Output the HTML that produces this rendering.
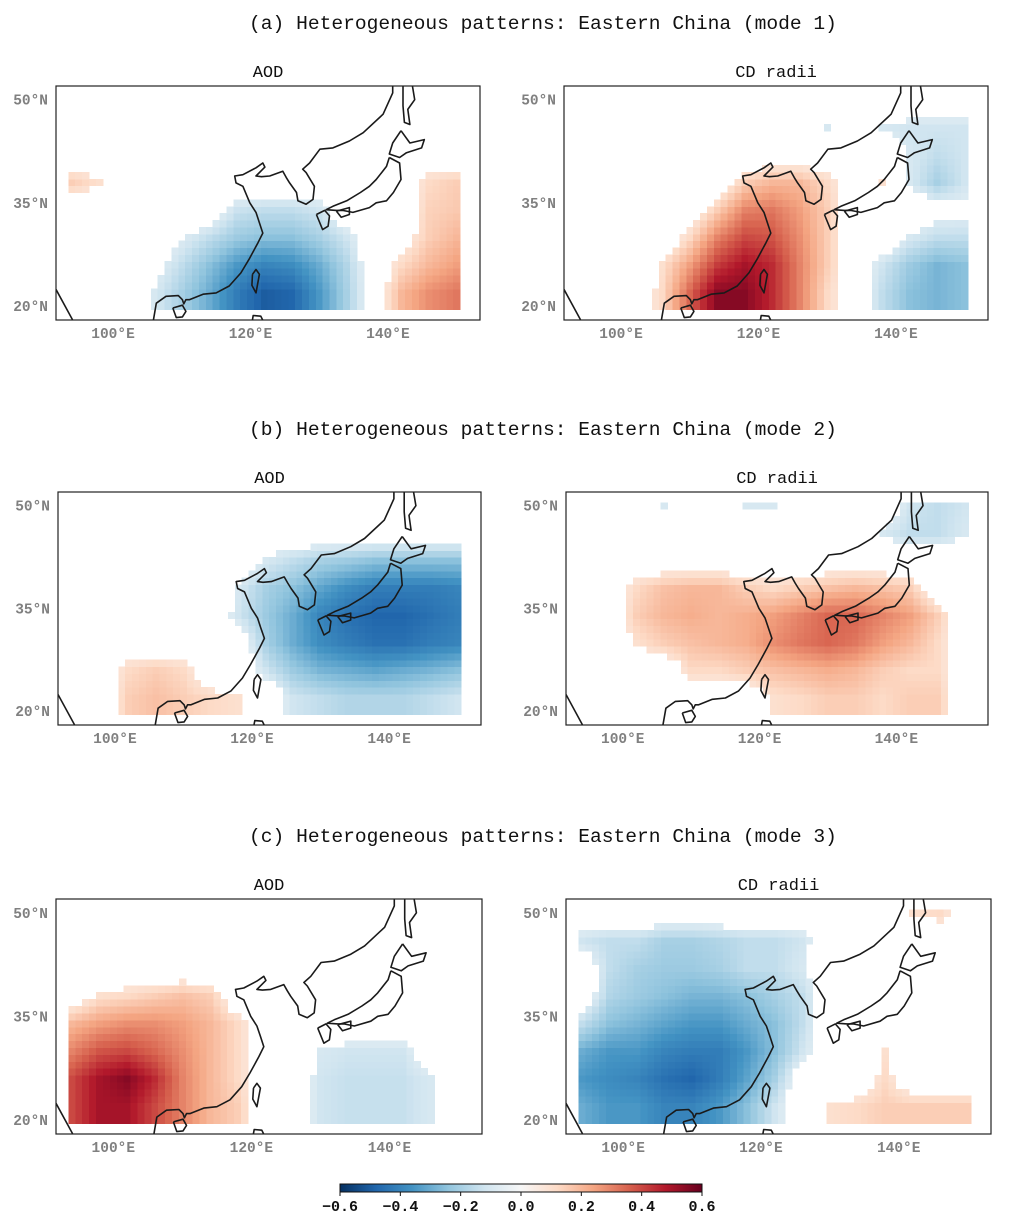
<!DOCTYPE html>
<html><head><meta charset="utf-8"><style>
body{margin:0;background:#fff;}
svg text{font-family:"Liberation Mono","DejaVu Sans Mono",monospace;}
</style></head><body>
<svg id="fig" width="1009" height="1225" viewBox="0 0 1009 1225" xmlns="http://www.w3.org/2000/svg"></svg>
<script>
const lons=[94,98,102,106,110,114,118,122,126,130,134,138,142,146,150];
const lats=[50,46,42,38,34,30,26,22];
const aAOD=[
[0,0,0,0,0,0,0,0,0,0,0,0,0,0,0],
[0,0,0,0,0,0,0,0,0,0,0,0,0,0,0],
[0,0,0,0,0,0,0,0,0,0,0,0,0,0,0],
[.15,.1,0,0,0,0,0,0,0,0,0,0,0,.12,.15],
[0,0,0,0,0,0,-.13,-.15,-.15,-.12,0,0,0,.14,.16],
[0,0,0,0,-.08,-.15,-.22,-.25,-.25,-.2,-.12,0,.04,.15,.2],
[0,0,0,-.05,-.15,-.25,-.35,-.4,-.38,-.3,-.18,0,.12,.2,.25],
[0,0,0,-.1,-.2,-.3,-.42,-.5,-.48,-.35,-.2,0,.2,.28,.32]];
const aCD=[
[0,0,0,0,0,0,0,0,0,0,0,0,0,0,0],
[0,0,0,0,0,0,0,0,0,-.1,0,-.1,-.12,-.12,-.12],
[0,0,0,0,0,0,0,0,0,0,0,0,-.1,-.15,-.12],
[0,0,0,0,0,0,.15,.2,.2,.12,0,.1,-.1,-.2,-.12],
[0,0,0,0,0,.15,.3,.32,.25,.15,0,0,0,-.05,-.06],
[0,0,0,0,.12,.3,.4,.38,.28,.15,0,0,-.1,-.15,-.15],
[0,0,0,.1,.25,.42,.5,.45,.3,.15,0,-.12,-.22,-.28,-.25],
[0,0,0,.12,.35,.55,.55,.45,.3,.12,0,-.15,-.25,-.28,-.25]];
const bAOD=[
[0,0,0,0,0,0,0,0,0,0,0,0,0,0,0],
[0,0,0,0,0,0,0,0,0,0,0,0,0,0,0],
[0,0,0,0,0,0,0,-.1,-.15,-.2,-.22,-.25,-.25,-.25,-.25],
[0,0,0,0,0,0,-.1,-.2,-.25,-.32,-.38,-.42,-.42,-.42,-.4],
[0,0,0,0,0,0,-.12,-.22,-.3,-.4,-.45,-.48,-.48,-.45,-.42],
[0,0,0,0,0,0,0,-.2,-.3,-.38,-.42,-.45,-.45,-.42,-.4],
[0,0,.12,.15,.12,0,0,-.12,-.22,-.28,-.3,-.32,-.3,-.28,-.25],
[0,0,.15,.18,.15,.12,.1,0,-.12,-.15,-.18,-.18,-.18,-.15,-.12]];
const bCD=[
[0,0,0,-.1,0,0,-.1,-.1,0,0,0,0,-.12,-.15,-.12],
[0,0,0,0,0,0,0,0,0,0,0,-.1,-.15,-.15,-.1],
[0,0,0,0,0,0,0,0,0,0,0,0,0,0,0],
[0,0,.12,.18,.2,.2,.15,.12,.15,.18,.2,.18,.15,0,0],
[0,0,.15,.2,.22,.2,.22,.25,.3,.35,.35,.3,.25,.15,0],
[0,0,.1,.15,.18,.2,.22,.28,.32,.35,.32,.25,.2,.12,0],
[0,0,0,0,.12,.12,.15,.18,.2,.22,.2,.15,.12,.12,0],
[0,0,0,0,0,0,0,.1,.12,.15,.15,.12,.15,.15,0]];
const cAOD=[
[0,0,0,0,0,0,0,0,0,0,0,0,0,0,0],
[0,0,0,0,0,0,0,0,0,0,0,0,0,0,0],
[0,0,0,0,0,0,0,0,0,0,0,0,0,0,0],
[0,.1,.12,.15,.18,.15,0,0,0,0,0,0,0,0,0],
[.2,.25,.28,.28,.25,.2,.12,0,0,0,0,0,0,0,0],
[.3,.38,.4,.35,.28,.2,.12,0,0,-.1,-.12,-.12,-.12,0,0],
[.4,.5,.55,.45,.3,.2,.12,0,0,-.12,-.14,-.14,-.14,-.1,0],
[.4,.5,.5,.4,.3,.2,.15,0,0,-.12,-.14,-.14,-.14,-.1,0]];
const cCD=[
[0,0,0,0,0,0,0,0,0,0,0,0,.1,.12,0],
[-.12,-.15,-.15,-.2,-.2,-.18,-.15,-.15,-.12,0,0,0,0,0,0],
[0,-.15,-.2,-.22,-.22,-.2,-.15,-.15,-.1,0,0,0,0,0,0],
[0,-.18,-.22,-.25,-.28,-.28,-.25,-.2,-.15,0,0,0,0,0,0],
[-.15,-.25,-.28,-.32,-.35,-.35,-.3,-.25,-.15,0,0,0,0,0,0],
[-.3,-.35,-.35,-.4,-.42,-.42,-.35,-.25,-.12,0,0,.1,0,0,0],
[-.35,-.38,-.4,-.45,-.48,-.42,-.32,-.2,0,0,0,.12,0,0,0],
[-.3,-.35,-.35,-.4,-.4,-.35,-.25,-.12,0,.1,.12,.15,.15,.15,.15]];
const latTicks=[50,35,20];
const lonTicks=[100,120,140];
const cbTicks=[-0.6,-0.4,-0.2,0.0,0.2,0.4,0.6];

const cmapStops=["#053061","#2166ac","#4393c3","#92c5de","#d1e5f0","#f7f7f7","#fddbc7","#f4a582","#d6604d","#b2182b","#67001f"];
function hex(h){return [1,3,5].map(i=>parseInt(h.substr(i,2),16));}
function cmap(v){let t=(v+0.6)/1.2;t=Math.max(0,Math.min(1,t))*10;const i=Math.min(9,Math.floor(t)),f=t-i;const a=hex(cmapStops[i]),b=hex(cmapStops[i+1]);return `rgb(${a.map((x,k)=>Math.round(x+(b[k]-x)*f)).join(',')})`;}

const coasts=[
[[91.7,22.4],[94.1,18]],
[[105.8,17.5],[106.3,20.4],[107.7,21.4],[109.5,21.5],[110.1,20.9],[110.3,20.3],[110.6,20.9],[111.1,20.9],[113.1,21.7],[115,21.9],[116.9,22.9],[118.6,24.8],[119.8,26.8],[121.1,29.2],[121.8,30.6],[121.3,32.1],[120.8,33.6],[119.9,35],[118.9,37.4],[117.9,37.9],[117.7,38.9],[118.9,39.1],[120.8,40.1],[121.8,40.8],[122.1,40.2],[120.8,38.9],[121.6,38.8],[122.8,38.9],[124.7,39.6],[125.2,38.7],[125.7,37.9],[126.7,36.5],[126.9,35.3],[128.1,34.8],[129.1,35.5],[129.3,37.4],[128.1,39.4],[127.6,39.9],[128.6,40.8],[130.1,42.8],[132,43],[134.4,44],[136.4,45.2],[139.3,47.9],[140.7,51],[140.7,53]],
[[142.2,53],[142.2,49.1],[142.4,46.7],[143.2,46.4],[142.9,48.6],[143.9,50],[143.4,53]],
[[141.9,45.5],[143.2,43.7],[145.3,44.2],[144.9,43],[142.7,42.3],[141.7,41.6],[140.2,42.1],[140.7,43.7],[141.9,45.5]],
[[140.2,41.6],[141.7,40.8],[141.9,38.4],[140.8,36.5],[139.8,35.3],[138.3,35],[137.3,34.3],[134.9,33.6],[133.4,33.9],[132.5,33.9],[131,34],[132,34.5],[134,35.3],[136,36.5],[137.3,37.4],[138.3,38.4],[139.8,40.3],[140.2,41.6]],
[[129.6,33.3],[130.5,31.1],[131.3,31.6],[131.5,33.1],[130.8,33.9],[129.6,33.3]],
[[132.5,33.8],[134.4,34.3],[134.4,33.3],[133.2,32.9],[132.5,33.8]],
[[120.3,24.6],[120.8,25.3],[121.3,24.6],[120.8,21.9],[120.2,23],[120.3,24.6]],
[[108.7,19.7],[110.1,20.1],[110.6,19.2],[110.1,18.4],[109.2,18.3],[108.7,19.7]],
[[120.2,17.5],[120.4,18.6],[121.5,18.5],[122,17.5]]
];

const panels=[
{id:"a-aod",x:56,y:86,w:424,h:234,title:"AOD",data:aAOD},
{id:"a-cd",x:564,y:86,w:424,h:234,title:"CD radii",data:aCD},
{id:"b-aod",x:58,y:492,w:423,h:233,title:"AOD",data:bAOD},
{id:"b-cd",x:566,y:492,w:422,h:233,title:"CD radii",data:bCD},
{id:"c-aod",x:56,y:899,w:426,h:235,title:"AOD",data:cAOD},
{id:"c-cd",x:566,y:899,w:425,h:235,title:"CD radii",data:cCD}];
const rowTitles=[["(a) Heterogeneous patterns: Eastern China (mode 1)",23],["(b) Heterogeneous patterns: Eastern China (mode 2)",429],["(c) Heterogeneous patterns: Eastern China (mode 3)",836]];

const NS="http://www.w3.org/2000/svg";
const svg=document.getElementById('fig');
function mk(tag,attrs,parent){const e=document.createElementNS(NS,tag);for(const k in attrs)e.setAttribute(k,attrs[k]);(parent||svg).appendChild(e);return e;}

function sample(d,lon,lat){
  let fx=(lon-lons[0])/4, fy=(lats[0]-lat)/4;
  fx=Math.max(0,Math.min(lons.length-1,fx)); fy=Math.max(0,Math.min(lats.length-1,fy));
  const i=Math.min(lons.length-2,Math.floor(fx)), j=Math.min(lats.length-2,Math.floor(fy));
  const u=fx-i,v=fy-j;
  return d[j][i]*(1-u)*(1-v)+d[j][i+1]*u*(1-v)+d[j+1][i]*(1-u)*v+d[j+1][i+1]*u*v;
}

rowTitles.forEach((r,k)=>{
  const t=mk('text',{x:543,y:r[1]+6,'text-anchor':'middle','font-size':19.6,fill:'#111'});
  t.textContent=r[0];
  
  
});

panels.forEach(p=>{
  const sx=lon=>p.x+(lon-91.7)*p.w/61.7;
  const sy=lat=>p.y+(52-lat)*p.h/34.05;
  const g=mk('g',{});
  
  
  const cid='clip-'+p.id;
  const cp=mk('clipPath',{id:cid},g);mk('rect',{x:p.x,y:p.y,width:p.w,height:p.h},cp);
  const cells=mk('g',{'clip-path':`url(#${cid})`,'shape-rendering':'crispEdges'},g);
  
  
  for(let lon=94;lon<=150;lon++)for(let lat=20;lat<=50;lat++){
    const v=sample(p.data,lon,lat);
    if(Math.abs(v)<0.09)continue;
    const c=mk('rect',{x:sx(lon-0.5),y:sy(lat+0.5),width:p.w/61.7+0.6,height:p.h/34.05+0.6,fill:cmap(v)},cells);
    
    
  }
  const cg=mk('g',{'clip-path':`url(#${cid})`,fill:'none',stroke:'#1a1a1a','stroke-width':1.6,'stroke-linejoin':'round'},g);
  
  
  coasts.forEach(c=>{mk('path',{d:c.map((q,i)=>(i?'L':'M')+sx(q[0]).toFixed(1)+','+sy(q[1]).toFixed(1)).join('')},cg);});
  const fr=mk('rect',{x:p.x,y:p.y,width:p.w,height:p.h,fill:'none',stroke:'#222','stroke-width':1.2},g);
  
  
  const t=mk('text',{x:p.x+p.w/2,y:p.y-9,'text-anchor':'middle','font-size':17,fill:'#111'},g);
  t.textContent=p.title;
  
  
  latTicks.forEach(l=>{const e=mk('text',{x:p.x-8,y:sy(l)+5,'text-anchor':'end','font-size':14.5,'font-weight':'bold',fill:'#808080'},g);e.textContent=l+'°N';
    
    });
  lonTicks.forEach(l=>{const e=mk('text',{x:sx(l),y:p.y+p.h+18,'text-anchor':'middle','font-size':14.5,'font-weight':'bold',fill:'#808080'},g);e.textContent=l+'°E';
    
    });
});

const cb=mk('g',{});


const cbx=340,cbw=362,cby=1184,cbh=8;
const defs=mk('defs',{},cb);
const lg=mk('linearGradient',{id:'cbgrad',x1:0,x2:1,y1:0,y2:0},defs);
cmapStops.forEach((c,i)=>mk('stop',{offset:(i/10),'stop-color':c},lg));
mk('rect',{x:cbx,y:cby,width:cbw,height:cbh,fill:'url(#cbgrad)',stroke:'#111','stroke-width':1},cb);
cbTicks.forEach(v=>{const x=cbx+(v+0.6)/1.2*cbw;
  mk('line',{x1:x,x2:x,y1:cby+cbh,y2:cby+cbh+4,stroke:'#111'},cb);
  const e=mk('text',{x:x,y:1211,'text-anchor':'middle','font-size':15,'font-weight':'bold',fill:'#111'},cb);
  e.textContent=(v<0?'\u2212':'')+Math.abs(v).toFixed(1);
  
  });
</script>
</body></html>
